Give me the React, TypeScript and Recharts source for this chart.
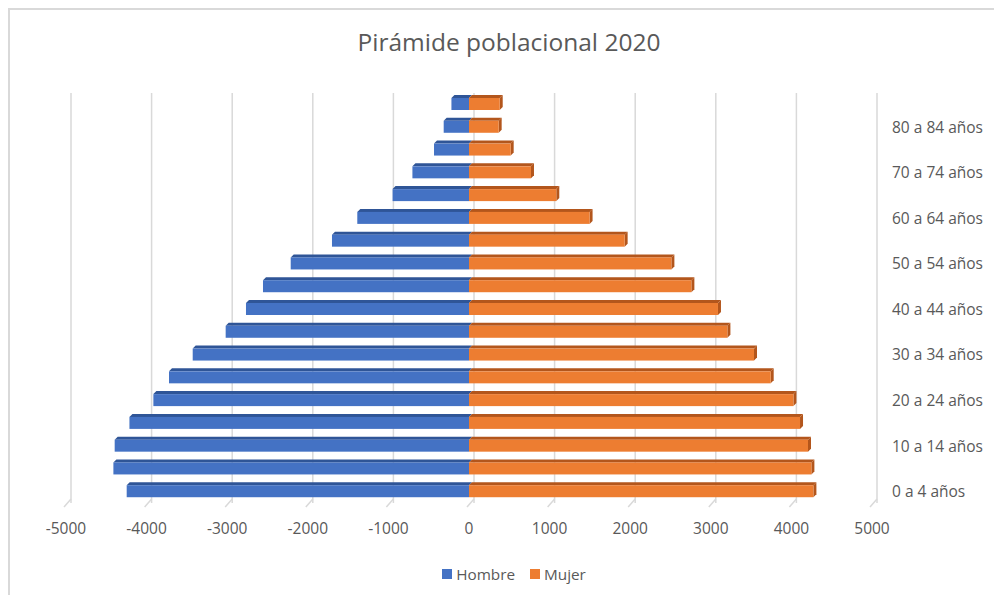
import React from 'react'
import { BarChart, Bar, XAxis, YAxis, CartesianGrid, Legend } from 'recharts'

const grupos = [
  '0 a 4 años', '5 a 9 años', '10 a 14 años', '15 a 19 años', '20 a 24 años',
  '25 a 29 años', '30 a 34 años', '35 a 39 años', '40 a 44 años', '45 a 49 años',
  '50 a 54 años', '55 a 59 años', '60 a 64 años', '65 a 69 años', '70 a 74 años',
  '75 a 79 años', '80 a 84 años', '85 años y más',
]
const hombre = [
  -4247, -4412, -4396, -4213, -3916, -3722, -3428, -3019, -2767, -2556,
  -2212, -1700, -1386, -948, -702, -434, -314, -218,
]
const mujer = [
  4273, 4248, 4206, 4107, 4025, 3743, 3536, 3206, 3089, 2759,
  2511, 1931, 1496, 1083, 769, 517, 368, 381,
]
const xTicks = [-5000, -4000, -3000, -2000, -1000, 0, 1000, 2000, 3000, 4000, 5000]

const data = grupos.map((grupo, i) => ({ grupo, Hombre: hombre[i], Mujer: mujer[i] }))

const FONT = '"Open Sans", Lato, sans-serif'
const TEXT = '#595959'
const GRID = '#d9d9d9'
const W = 994
const H = 587
const M = { top: 83, right: 12, left: 56, bottom: 11 }
const PLOT_BOTTOM = 493
const DEPTH = 3

const series = [
  { key: 'Hombre', fill: '#4472c4', dark: '#2f5597' },
  { key: 'Mujer', fill: '#ed7d31', dark: '#b3561c' },
]

// flat bar with a thin top face and an end face, like Excel's 3-D bars
const bar3d = (dark: string, side: boolean) => (props: any) => {
  const { x, y, width, height, fill } = props
  if (width == null || !height) return null
  const x0 = Math.min(x, x + width)
  const x1 = Math.max(x, x + width)
  const d = DEPTH
  return (
    <g>
      <polygon points={`${x0},${y} ${x0 + d},${y - d} ${x1 + d},${y - d} ${x1},${y}`} fill={dark} />
      {side && (
        <polygon points={`${x1},${y} ${x1 + d},${y - d} ${x1 + d},${y + height - d} ${x1},${y + height}`} fill={dark} />
      )}
      <rect x={x0} y={y} width={x1 - x0} height={height} fill={fill} />
    </g>
  )
}

const XTick = (props: any) => {
  const { x, payload } = props
  return (
    <g>
      <polyline points={`${x + 5},${PLOT_BOTTOM - 4} ${x - 2},${PLOT_BOTTOM + 4}`} stroke={GRID} strokeWidth={1.5} fill="none" />
      <text x={x} y={524} textAnchor="middle" fill={TEXT} fontSize={15.5} fontFamily={FONT}>
        {payload.value}
      </text>
    </g>
  )
}

const YTick = (props: any) => {
  const { x, y, payload } = props
  return (
    <text x={x + 18} y={y + 5.5} textAnchor="start" fill={TEXT} fontSize={15.5} fontFamily={FONT}>
      {payload.value}
    </text>
  )
}

const LegendBox = () => (
  <div style={{ display: 'flex', justifyContent: 'center', gap: 15, height: 24, alignItems: 'center', paddingRight: 30, fontFamily: FONT, fontSize: 15.3, color: TEXT }}>
    {series.map((s) => (
      <span key={s.key} style={{ display: 'flex', alignItems: 'center' }}>
        <span style={{ width: 10, height: 10, background: s.fill, marginRight: 4 }} />
        {s.key}
      </span>
    ))}
  </div>
)

export default function App() {
  return (
    <div style={{ position: 'relative', width: W, height: H, borderTop: '2px solid #d9d9d9', borderLeft: '2px solid #d9d9d9', background: '#fff' }}>
      <div style={{ position: 'absolute', top: 15, left: 0, width: W + 4, textAlign: 'center', fontFamily: FONT, fontSize: 24.5, color: TEXT }}>
        Pirámide poblacional 2020
      </div>
      <BarChart width={W} height={H} data={data} layout="vertical" stackOffset="sign" margin={M} barSize={12}>
        <CartesianGrid
          horizontal={false}
          stroke={GRID}
          strokeWidth={1.5}
          verticalCoordinatesGenerator={({ offset }: any) =>
            xTicks.map((v) => offset.left + ((v + 5000) / 10000) * offset.width + 5)
          }
        />
        <XAxis
          type="number"
          domain={[-5000, 5000]}
          ticks={xTicks}
          axisLine={false}
          tickLine={false}
          height={59}
          tick={<XTick />}
        />
        <YAxis
          type="category"
          dataKey="grupo"
          orientation="right"
          reversed
          interval={1}
          axisLine={false}
          tickLine={false}
          tickSize={0}
          width={120}
          tick={<YTick />}
        />
        <Legend verticalAlign="bottom" content={<LegendBox />} />
        {series.map((s) => (
          <Bar
            key={s.key}
            dataKey={s.key}
            stackId="p"
            fill={s.fill}
            isAnimationActive={false}
            shape={bar3d(s.dark, s.key === 'Mujer')}
          />
        ))}
      </BarChart>
    </div>
  )
}
